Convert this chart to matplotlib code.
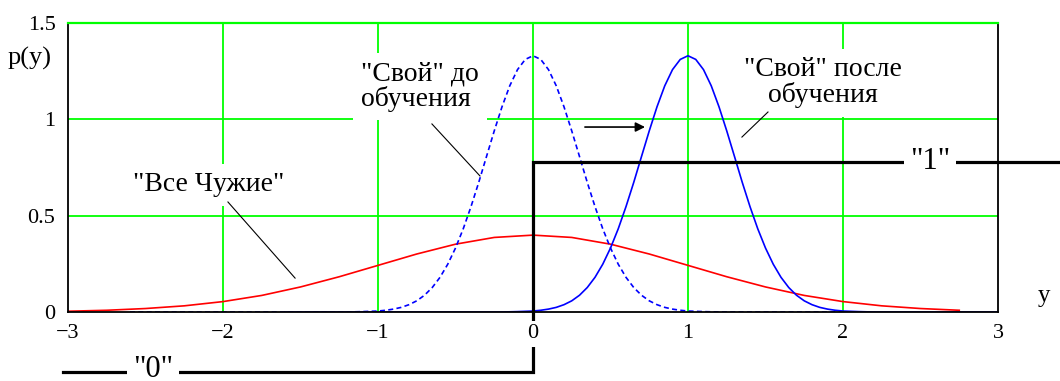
import matplotlib
matplotlib.use('Agg')
import matplotlib.pyplot as plt

# ---------------- data ----------------
x_ticks = [-3, -2, -1, 0, 1, 2, 3]
x_tick_labels = ['\u22123', '\u22122', '\u22121', '0', '1', '2', '3']
y_ticks = [0, 0.5, 1, 1.5]
y_tick_labels = ['0', '0.5', '1', '1.5']

# "Все Чужие" (red)
aliens_x = [-3.0, -2.75, -2.5, -2.25, -2.0, -1.75, -1.5, -1.25, -1.0, -0.75, -0.5, -0.25,
            0.0, 0.25, 0.5, 0.75, 1.0, 1.25, 1.5, 1.75, 2.0, 2.25, 2.5, 2.75]
aliens_y = [0.004, 0.009, 0.018, 0.032, 0.054, 0.086, 0.130, 0.183, 0.242, 0.301, 0.352, 0.387,
            0.399, 0.387, 0.352, 0.301, 0.242, 0.183, 0.130, 0.086, 0.054, 0.032, 0.018, 0.009]

# "Свой" до обучения (blue dashed)
own_before_x = [-2.6, -1.4, -1.2, -1.1,
                -1.00, -0.95, -0.90, -0.85, -0.80, -0.75, -0.70, -0.65, -0.60, -0.55, -0.50,
                -0.45, -0.40, -0.35, -0.30, -0.25, -0.20, -0.15, -0.10, -0.05, 0.00,
                0.05, 0.10, 0.15, 0.20, 0.25, 0.30, 0.35, 0.40, 0.45, 0.50,
                0.55, 0.60, 0.65, 0.70, 0.75, 0.80, 0.85, 0.90, 0.95, 1.00,
                1.1, 1.2, 1.4, 2.0]
own_before_y = [0.0, 0.0, 0.000, 0.002,
                0.005, 0.009, 0.015, 0.024, 0.038, 0.058, 0.087, 0.127, 0.180, 0.248, 0.332,
                0.432, 0.547, 0.673, 0.807, 0.940, 1.065, 1.174, 1.258, 1.311, 1.330,
                1.311, 1.258, 1.174, 1.065, 0.940, 0.807, 0.673, 0.547, 0.432, 0.332,
                0.248, 0.180, 0.127, 0.087, 0.058, 0.038, 0.024, 0.015, 0.009, 0.005,
                0.002, 0.000, 0.0, 0.0]

# "Свой" после обучения (blue solid)
own_after_x = [-1.6, -0.4, -0.2, -0.1,
               0.00, 0.05, 0.10, 0.15, 0.20, 0.25, 0.30, 0.35, 0.40, 0.45, 0.50,
               0.55, 0.60, 0.65, 0.70, 0.75, 0.80, 0.85, 0.90, 0.95, 1.00,
               1.05, 1.10, 1.15, 1.20, 1.25, 1.30, 1.35, 1.40, 1.45, 1.50,
               1.55, 1.60, 1.65, 1.70, 1.75, 1.80, 1.85, 1.90, 1.95, 2.00,
               2.1, 2.2, 2.4, 3.0]
own_after_y = [0.0, 0.0, 0.000, 0.002,
               0.005, 0.009, 0.015, 0.024, 0.038, 0.058, 0.087, 0.127, 0.180, 0.248, 0.332,
               0.432, 0.547, 0.673, 0.807, 0.940, 1.065, 1.174, 1.258, 1.311, 1.330,
               1.311, 1.258, 1.174, 1.065, 0.940, 0.807, 0.673, 0.547, 0.432, 0.332,
               0.248, 0.180, 0.127, 0.087, 0.058, 0.038, 0.024, 0.015, 0.009, 0.005,
               0.002, 0.000, 0.0, 0.0]

# decision step "0" / "1"
step_x = [-3.03, 0.0, 0.0, 3.45]
step_y = [-0.31, -0.31, 0.78, 0.78]
step_labels = ['"0"', '"1"']
step_label_x = [-2.45, 2.56]
step_label_y = [-0.30, 0.78]

# annotations
ann_texts = ['"Все Чужие"', '"Свой" до\nобучения', '"Свой" после\nобучения']
ann_pos = [(-2.09, 0.66), (-0.73, 1.17), (1.87, 1.19)]
ann_align = ['center', 'left', 'center']
leader_from = [(-1.968, 0.571), (-0.652, 0.976), (1.516, 1.038)]
leader_to = [(-1.535, 0.176), (-0.342, 0.706), (1.348, 0.908)]
arrow_start = (0.335, 0.96)
arrow_end = (0.723, 0.96)

# ---------------- styling ----------------
SERIF = 'Liberation Serif'
GREEN = '#00ff00'

fig = plt.figure(figsize=(10.6, 3.81), dpi=100)
ax = fig.add_axes([68 / 1060, 1 - 312 / 381, (998 - 68) / 1060, (312 - 23) / 381])
ax.set_xlim(-3, 3)
ax.set_ylim(0, 1.5)

# grid (manual so text boxes can hide it)
for gx in x_ticks[1:-1]:
    ax.axvline(gx, color=GREEN, lw=1.3, zorder=1)
for gy in y_ticks[1:-1]:
    ax.axhline(gy, color=GREEN, lw=1.3, zorder=1)
ax.axhline(y_ticks[-1], color=GREEN, lw=1.6, zorder=3.5, clip_on=False)

# curves
ax.plot(aliens_x, aliens_y, color='#ff0000', lw=1.2, zorder=2)
ax.plot(own_before_x, own_before_y, color='#0000ff', lw=1.2, linestyle=(0, (3, 2)), zorder=2)
ax.plot(own_after_x, own_after_y, color='#0000ff', lw=1.2, zorder=2)

# step
ax.plot(step_x, step_y, color='black', lw=2.3, zorder=4, clip_on=False,
        solid_joinstyle='miter')
for lab, lx, ly in zip(step_labels, step_label_x, step_label_y):
    ax.text(lx, ly, lab, ha='center', va='center', family=SERIF, size=22, zorder=6,
            clip_on=False,
            bbox=dict(boxstyle='square,pad=0.2', fc='white', ec='none'))

# annotation texts
for t, (tx, ty), al in zip(ann_texts, ann_pos, ann_align):
    ax.text(tx, ty, t, ha='center', va='center', multialignment=al, family=SERIF,
            size=20, linespacing=1.0, zorder=1.5,
            bbox=dict(boxstyle='square,pad=0.3', fc='white', ec='none'))
for (x0, y0), (x1, y1) in zip(leader_from, leader_to):
    ax.plot([x0, x1], [y0, y1], color='black', lw=0.8, zorder=2.5)

ax.annotate('', xy=arrow_end, xytext=arrow_start,
            arrowprops=dict(arrowstyle='-|>', color='black', lw=1.2, mutation_scale=14,
                            shrinkA=0, shrinkB=0), zorder=3)

# axes / ticks
for s in ax.spines.values():
    s.set_color('black')
    s.set_linewidth(1.3)
    s.set_zorder(3)
ax.set_xticks(x_ticks)
ax.set_xticklabels(x_tick_labels)
ax.set_yticks(y_ticks)
ax.set_yticklabels(y_tick_labels)
ax.tick_params(length=0, labelsize=16)
ax.tick_params(axis='x', pad=9)
ax.tick_params(axis='y', pad=9)
for lbl in ax.get_xticklabels() + ax.get_yticklabels():
    lbl.set_fontfamily(SERIF)
for lbl in ax.get_xticklabels():
    lbl.set_bbox(dict(boxstyle='square,pad=0.15', fc='white', ec='none'))
ax.xaxis.set_zorder(5)

fig.text(8 / 1060, 1 - 58 / 381, 'p(y)', ha='left', va='center', family=SERIF, size=19)
fig.text(1044 / 1060, 1 - 296 / 381, 'y', ha='center', va='center', family=SERIF, size=18)

fig.savefig('out.png', dpi=100)
